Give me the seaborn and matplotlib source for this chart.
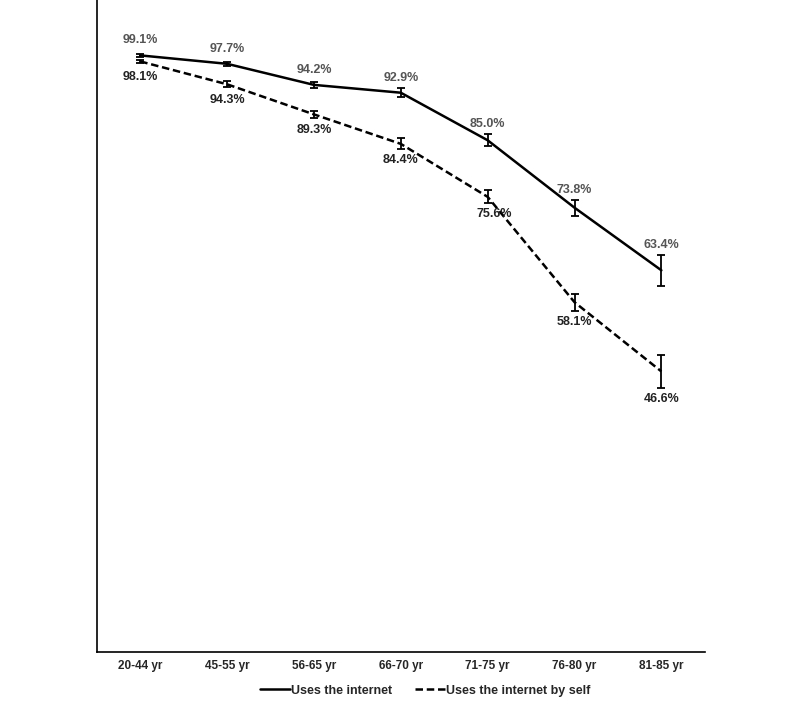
import pandas as pd
import seaborn as sns
import matplotlib
matplotlib.use("Agg")
import matplotlib.pyplot as plt

sns.set_style("white")
plt.rcParams['font.family'] = ['Liberation Sans', 'DejaVu Sans']

ages = ["20-44 yr", "45-55 yr", "56-65 yr", "66-70 yr", "71-75 yr", "76-80 yr", "81-85 yr"]
internet = [99.1, 97.7, 94.2, 92.9, 85.0, 73.8, 63.4]
internet_err = [0.2, 0.3, 0.5, 0.7, 1.0, 1.3, 2.6]
by_self = [98.1, 94.3, 89.3, 84.4, 75.6, 58.1, 46.6]
by_self_err = [0.3, 0.5, 0.6, 0.9, 1.1, 1.4, 2.7]

df = pd.DataFrame({"age": ages, "internet": internet, "self": by_self})
df["pos"] = range(len(ages))

f = plt.figure(figsize=(8, 7.11), dpi=100)
ax = f.add_axes([0.121, 0.083, 0.76, 0.917])

sns.lineplot(x="pos", y="internet", data=df, ax=ax, color="black", lw=1.8,
             label="Uses the internet")
sns.lineplot(x="pos", y="self", data=df, ax=ax, color="black", lw=1.8,
             label="Uses the internet by self")
ax.lines[1].set_linestyle((0, (3, 1.5)))

ax.errorbar(df["pos"], df["internet"], yerr=internet_err, fmt="none",
            ecolor="black", elinewidth=1.3, capsize=3, capthick=1.3)
ax.errorbar(df["pos"], df["self"], yerr=by_self_err, fmt="none",
            ecolor="black", elinewidth=1.3, capsize=3, capthick=1.3)

# value labels, about 15 px from the point but clear of the error bar
px = 6.0  # pixels per percentage point
for i, row in df.iterrows():
    up = max(15, internet_err[i] * px + 10) * 0.72
    down = max(16, by_self_err[i] * px + 11) * 0.72
    dx = 5 if i == 4 else 0
    ax.annotate("%.1f%%" % row["internet"], (row["pos"], row["internet"]),
                xytext=(0, up), textcoords="offset points", ha="center", va="center",
                fontsize=9, color="#555555", fontweight="bold")
    ax.annotate("%.1f%%" % row["self"], (row["pos"], row["self"]),
                xytext=(dx, -down), textcoords="offset points", ha="center", va="center",
                fontsize=9, color="#222222", fontweight="bold")

ax.set_xlim(-0.5, 6.5)
ax.set_ylim(0, 108.3)
ax.set_xticks(df["pos"])
ax.set_xticklabels(ages, fontsize=8.5, fontweight="bold")
ax.set_yticks([])
ax.tick_params(axis="x", length=0, pad=6)
ax.set(xlabel="", ylabel="")

for s in ["top", "right"]:
    ax.spines[s].set_visible(False)
for s in ["left", "bottom"]:
    ax.spines[s].set_color("black")
    ax.spines[s].set_linewidth(1.2)

leg = ax.legend(loc="upper center", bbox_to_anchor=(0.54, -0.033), ncol=2,
                frameon=False, prop={"size": 9, "weight": "bold"},
                handlelength=2.4, handletextpad=0.1, columnspacing=1.8)

f.savefig("out.png", dpi=100)
